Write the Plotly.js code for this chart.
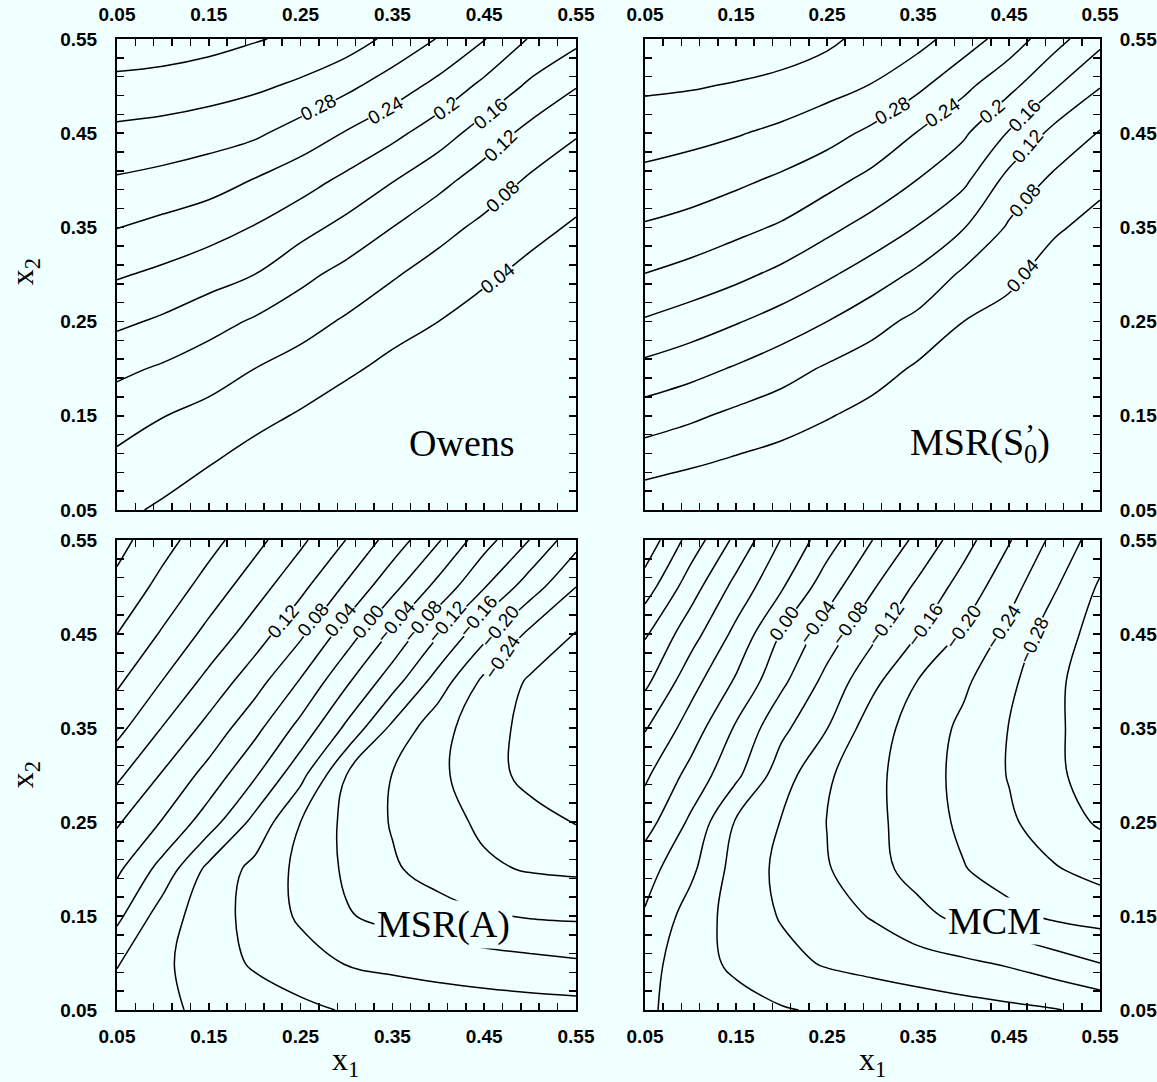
<!DOCTYPE html>
<html>
<head>
<meta charset="utf-8">
<script src="https://cdn.plot.ly/plotly-3.0.1.min.js"></script>
<style>html,body{margin:0;padding:0;background:#f0ffff;}</style>
</head>
<body>
<div id="chart" style="width:1157px;height:1082px;"></div>
<script>
// grid coordinates (x1 across, x2 up)
const x1Grid = [0.05,0.10,0.15,0.20,0.25,0.30,0.35,0.40,0.45,0.50,0.55];
const x2Grid = [0.05,0.10,0.15,0.20,0.25,0.30,0.35,0.40,0.45,0.50,0.55];

// tick marks and labels
const tickVals = [0.05,0.07,0.09,0.11,0.13,0.15,0.17,0.19,0.21,0.23,0.25,0.27,0.29,0.31,0.33,0.35,0.37,0.39,0.41,0.43,0.45,0.47,0.49,0.51,0.53,0.55];
const tickText = ['0.05','','','','','0.15','','','','','0.25','','','','','0.35','','','','','0.45','','','','','0.55'];

// surface values, rows = x2, columns = x1
const zOwens = [
 [0.049,0.034,0.016,-0.003,-0.020,-0.039,-0.052,-0.058,-0.073,-0.085,-0.106],
 [0.071,0.058,0.042,0.024,0.008,-0.010,-0.025,-0.034,-0.049,-0.062,-0.083],
 [0.097,0.081,0.068,0.052,0.036,0.018,0.002,-0.009,-0.025,-0.039,-0.059],
 [0.129,0.115,0.098,0.080,0.064,0.047,0.029,0.015,-0.001,-0.016,-0.036],
 [0.168,0.154,0.135,0.115,0.095,0.075,0.056,0.040,0.023,0.006,-0.012],
 [0.204,0.192,0.177,0.160,0.131,0.107,0.084,0.064,0.047,0.029,0.011],
 [0.241,0.229,0.216,0.198,0.174,0.148,0.120,0.093,0.071,0.052,0.035],
 [0.276,0.268,0.257,0.238,0.217,0.191,0.162,0.132,0.102,0.075,0.058],
 [0.311,0.306,0.298,0.287,0.263,0.237,0.211,0.179,0.142,0.108,0.083],
 [0.348,0.344,0.337,0.327,0.313,0.289,0.260,0.229,0.190,0.153,0.122],
 [0.387,0.382,0.374,0.363,0.352,0.340,0.310,0.278,0.242,0.197,0.170]
];
const zMsrS0 = [
 [0.012,0.004,-0.003,-0.010,-0.022,-0.037,-0.060,-0.080,-0.090,-0.110,-0.133],
 [0.056,0.045,0.034,0.024,0.010,-0.006,-0.030,-0.045,-0.060,-0.084,-0.107],
 [0.101,0.087,0.071,0.058,0.043,0.026,0.000,-0.020,-0.035,-0.058,-0.081],
 [0.149,0.134,0.116,0.096,0.075,0.058,0.034,0.007,-0.005,-0.032,-0.054],
 [0.196,0.181,0.163,0.143,0.120,0.094,0.069,0.040,0.025,-0.006,-0.028],
 [0.239,0.226,0.210,0.190,0.166,0.141,0.112,0.073,0.050,0.020,-0.002],
 [0.276,0.266,0.251,0.235,0.210,0.185,0.158,0.122,0.075,0.046,0.025],
 [0.309,0.300,0.288,0.273,0.253,0.228,0.199,0.169,0.107,0.072,0.051],
 [0.338,0.332,0.323,0.311,0.295,0.271,0.238,0.206,0.157,0.109,0.077],
 [0.366,0.363,0.357,0.348,0.334,0.318,0.288,0.250,0.211,0.164,0.122],
 [0.392,0.391,0.388,0.383,0.369,0.345,0.334,0.300,0.262,0.215,0.171]
];
const zMsrA = [
 [-0.022,-0.034,-0.047,-0.059,-0.071,-0.083,-0.091,-0.096,-0.100,-0.103,-0.105],
 [0.003,-0.033,-0.061,-0.085,-0.103,-0.122,-0.130,-0.137,-0.143,-0.149,-0.155],
 [0.050,-0.021,-0.062,-0.093,-0.126,-0.157,-0.171,-0.183,-0.196,-0.203,-0.206],
 [0.088,0.025,-0.051,-0.091,-0.130,-0.166,-0.195,-0.216,-0.234,-0.243,-0.247],
 [0.125,0.077,0.019,-0.052,-0.120,-0.170,-0.203,-0.226,-0.247,-0.265,-0.282],
 [0.168,0.116,0.065,0.005,-0.068,-0.160,-0.201,-0.232,-0.263,-0.292,-0.298],
 [0.212,0.158,0.107,0.052,-0.013,-0.088,-0.169,-0.226,-0.263,-0.292,-0.298],
 [0.247,0.199,0.148,0.097,0.037,-0.033,-0.102,-0.178,-0.249,-0.285,-0.290],
 [0.280,0.235,0.188,0.140,0.087,0.021,-0.047,-0.117,-0.188,-0.249,-0.282],
 [0.310,0.267,0.223,0.178,0.130,0.074,0.012,-0.053,-0.118,-0.181,-0.240],
 [0.333,0.295,0.255,0.213,0.168,0.119,0.063,0.004,-0.064,-0.121,-0.186]
];
const zMcm = [
 [-0.036,-0.050,-0.063,-0.077,-0.085,-0.092,-0.098,-0.105,-0.111,-0.118,-0.130],
 [-0.026,-0.061,-0.089,-0.108,-0.124,-0.133,-0.143,-0.153,-0.165,-0.182,-0.200],
 [-0.004,-0.057,-0.096,-0.123,-0.143,-0.163,-0.189,-0.211,-0.229,-0.247,-0.255],
 [0.016,-0.031,-0.096,-0.129,-0.157,-0.187,-0.214,-0.238,-0.258,-0.277,-0.293],
 [0.057,-0.007,-0.084,-0.122,-0.161,-0.190,-0.219,-0.248,-0.274,-0.301,-0.325],
 [0.087,0.027,-0.031,-0.102,-0.154,-0.190,-0.221,-0.252,-0.282,-0.314,-0.335],
 [0.123,0.062,-0.005,-0.070,-0.119,-0.182,-0.217,-0.248,-0.281,-0.313,-0.342],
 [0.170,0.096,0.035,-0.031,-0.092,-0.149,-0.201,-0.233,-0.271,-0.313,-0.340],
 [0.204,0.137,0.069,-0.003,-0.059,-0.111,-0.160,-0.206,-0.251,-0.302,-0.335],
 [0.260,0.178,0.107,0.044,-0.022,-0.076,-0.128,-0.176,-0.225,-0.276,-0.325],
 [0.308,0.224,0.150,0.078,0.018,-0.040,-0.090,-0.145,-0.197,-0.250,-0.301]
];

// contour levels that carry a printed label in each panel
const labelLevelsOwens = [0.28,0.24,0.2,0.16,0.12,0.08,0.04];
const labelLevelsMsrS0 = [0.28,0.24,0.2,0.16,0.12,0.08,0.04];
const labelLevelsMsrA = [0.12,0.08,0.04,0.00,-0.04,-0.08,-0.12,-0.16,-0.20,-0.24];
const labelLevelsMcm = [0.00,-0.04,-0.08,-0.12,-0.16,-0.20,-0.24,-0.28];

const panelNames = ['Owens', 'MSR(S<sub>0</sub>)', 'MSR(A)', 'MCM'];
const levelStart = [0.04, 0.04, -0.28, -0.32];
const levelEnd = [0.36, 0.36, 0.32, 0.28];
const levelStep = 0.04;

// ---- presentation (placement of labels along the lines: [x1, x2, angle]) ----
const labelPlacement = [
  [[0.269,0.477,-27],[0.342,0.474,-30],[0.408,0.476,-36],[0.457,0.471,-40],[0.468,0.437,-44],[0.470,0.383,-43],[0.464,0.296,-38]],
  [[0.322,0.474,-30],[0.377,0.472,-34],[0.431,0.473,-40],[0.467,0.469,-46],[0.470,0.436,-50],[0.467,0.379,-50],[0.465,0.299,-48]],
  [[0.231,0.463,-50],[0.264,0.465,-50],[0.294,0.465,-50],[0.324,0.463,-50],[0.354,0.463,-50],[0.383,0.463,-50],[0.410,0.463,-50],[0.443,0.469,-50],[0.467,0.458,-50],[0.470,0.426,-56]],
  [[0.203,0.461,-55],[0.240,0.463,-55],[0.275,0.461,-55],[0.315,0.461,-55],[0.358,0.460,-55],[0.400,0.458,-55],[0.444,0.458,-57],[0.477,0.443,-66]]
];

const BG = '#f0ffff';
const sans = 'Liberation Sans, Arial, sans-serif';
const serif = 'Liberation Serif, Times New Roman, serif';

function contourTrace(z, k, xa, ya) {
  return {type: 'contour', x: x1Grid, y: x2Grid, z: z, xaxis: xa, yaxis: ya,
    autocontour: false,
    contours: {start: levelStart[k], end: levelEnd[k], size: levelStep, coloring: 'none', showlabels: false},
    line: {color: 'black', width: 1.5, smoothing: 1.1},
    showscale: false, hoverinfo: 'skip'};
}

const data = [
  contourTrace(zOwens, 0, 'x', 'y'),
  contourTrace(zMsrS0, 1, 'x2', 'y2'),
  contourTrace(zMsrA, 2, 'x3', 'y3'),
  contourTrace(zMcm, 3, 'x4', 'y4')
];

function ax(domain, anchor, side, standoff) {
  return {domain: domain, anchor: anchor, side: side, range: [0.05, 0.55],
    tickmode: 'array', tickvals: tickVals, ticktext: tickText,
    ticks: 'inside', ticklen: 7, tickwidth: 1.5, tickcolor: 'black',
    showline: true, linecolor: 'black', linewidth: 2, mirror: 'ticks',
    showgrid: false, zeroline: false, fixedrange: true, ticklabelstandoff: standoff,
    tickfont: {family: sans, size: 19, color: 'black', weight: 'bold'}};
}
const colL = [0.1011, 0.4978], colR = [0.5575, 0.9507];
const rowT = [0.5287, 0.9640], rowB = [0.0665, 0.5009];

const annotations = [];
const refs = [['x','y'],['x2','y2'],['x3','y3'],['x4','y4']];
const allLevels = [labelLevelsOwens, labelLevelsMsrS0, labelLevelsMsrA, labelLevelsMcm];
allLevels.forEach((levels, k) => {
  levels.forEach((lv, i) => {
    const p = labelPlacement[k][i];
    let txt = k < 2 ? String(lv) : Math.abs(lv).toFixed(2);
    if (k >= 2 && lv < 0) txt = '\u2212' + txt;
    annotations.push({xref: refs[k][0], yref: refs[k][1], x: p[0], y: p[1], textangle: p[2],
      text: txt, showarrow: false, xanchor: 'center', yanchor: 'middle',
      bgcolor: BG, borderpad: 0, font: {family: sans, size: 19, color: 'black'}});
  });
});

const namePos = [[0.426,0.121],[0.418,0.119],[0.406,0.141],[0.434,0.145]];
panelNames.forEach((nm, k) => {
  annotations.push({xref: refs[k][0], yref: refs[k][1], x: namePos[k][0], y: namePos[k][1],
    text: nm, showarrow: false, xanchor: 'center', yanchor: 'middle', bgcolor: BG, borderpad: 2,
    font: {family: serif, size: 38, color: 'black'}});
});
// prime mark sitting above the subscript 0 of MSR(S'0)
annotations.push({xref: 'x2', yref: 'y2', x: 0.418, y: 0.119, xshift: 50, yshift: 11,
  text: '\u2019', showarrow: false, xanchor: 'center', yanchor: 'middle',
  font: {family: serif, size: 30, color: 'black'}});

[[0.021, 0.7486],[0.021, 0.2837]].forEach(p => annotations.push({xref: 'paper', yref: 'paper',
  x: p[0], y: p[1], xanchor: 'center', yanchor: 'middle', textangle: -90, text: 'x<sub>2</sub>',
  showarrow: false, font: {family: serif, size: 32, color: 'black'}}));
[[0.299, 0.0185],[0.7537, 0.0185]].forEach(p => annotations.push({xref: 'paper', yref: 'paper',
  x: p[0], y: p[1], xanchor: 'center', yanchor: 'middle', text: 'x<sub>1</sub>',
  showarrow: false, font: {family: serif, size: 32, color: 'black'}}));

const layout = {
  width: 1157, height: 1082, margin: {l: 0, r: 0, t: 0, b: 0},
  paper_bgcolor: BG, plot_bgcolor: BG, showlegend: false,
  xaxis: ax(colL, 'y', 'top', 8), yaxis: ax(rowT, 'x', 'left', 14),
  xaxis2: ax(colR, 'y2', 'top', 8), yaxis2: ax(rowT, 'x2', 'right', 14),
  xaxis3: ax(colL, 'y3', 'bottom', 8), yaxis3: ax(rowB, 'x3', 'left', 14),
  xaxis4: ax(colR, 'y4', 'bottom', 8), yaxis4: ax(rowB, 'x4', 'right', 14),
  annotations: annotations
};

Plotly.newPlot('chart', data, layout, {staticPlot: true});
</script>
</body>
</html>
